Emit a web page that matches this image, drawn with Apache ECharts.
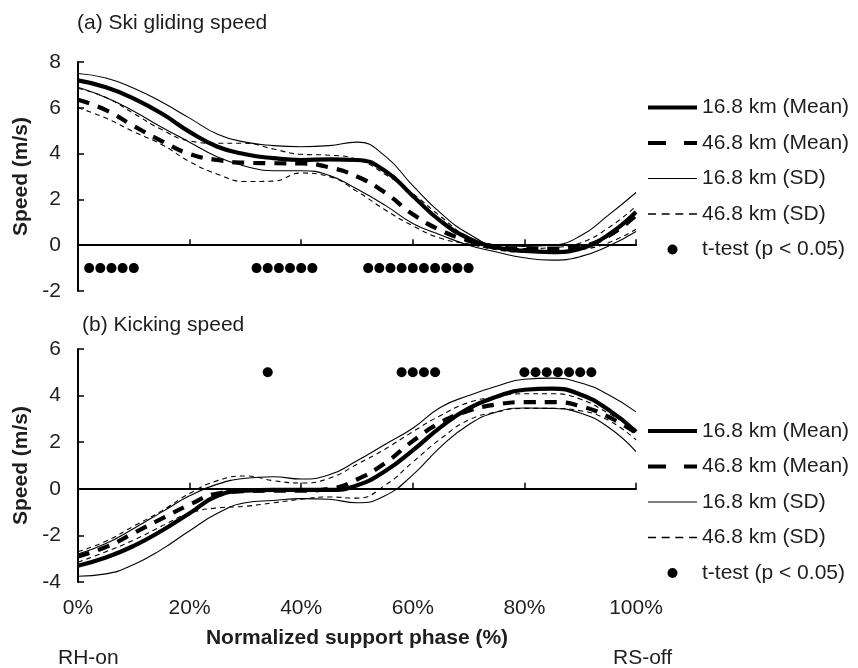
<!DOCTYPE html>
<html>
<head>
<meta charset="utf-8">
<script src="https://cdn.jsdelivr.net/npm/echarts@6/dist/echarts.min.js"></script>
<style>
html,body{margin:0;padding:0;background:#fff;}
#chart{width:858px;height:668px;}
</style>
</head>
<body>
<div id="chart"></div>
<script>
// Normalized support phase (%)
var phase = [0,5,10,15,20,25,30,35,40,45,50,55,60,65,70,75,80,85,90,95,100];

// (a) Ski gliding speed (m/s)
var glideMean168 = [7.2,6.9,6.4,5.75,4.95,4.3,3.97,3.8,3.72,3.75,3.72,3.25,2.15,1.05,0.3,-0.1,-0.25,-0.3,-0.15,0.45,1.45];
var glideMean468 = [6.35,5.9,5.2,4.55,3.98,3.72,3.6,3.58,3.57,3.4,3.0,2.3,1.35,0.65,0.2,-0.1,-0.15,-0.15,-0.05,0.4,1.3];
var glideSD168Up = [7.5,7.3,6.85,6.25,5.55,4.85,4.5,4.35,4.3,4.35,4.5,3.9,2.6,1.4,0.5,0.0,-0.05,0.0,0.4,1.3,2.3];
var glideSD168Lo = [6.9,6.45,5.85,5.15,4.5,3.85,3.45,3.25,3.25,3.05,2.45,1.75,0.95,0.45,0.0,-0.3,-0.55,-0.65,-0.5,-0.05,0.6];
var glideSD468Up = [6.85,6.45,5.75,5.05,4.55,4.45,4.45,4.2,3.97,3.93,3.75,3.1,2.25,1.25,0.35,0.0,-0.15,-0.1,0.1,0.75,1.7];
var glideSD468Lo = [6.0,5.55,4.95,4.4,3.65,3.1,2.78,2.8,3.15,3.0,2.35,1.55,0.85,0.3,0.05,-0.2,-0.3,-0.3,-0.2,0.1,0.7];
var glideSigX = [2,4,6,8,10,32,34,36,38,40,42,52,54,56,58,60,62,64,66,68,70];
var glideSigLevel = -1;

// (b) Kicking speed (m/s)
var kickMean168 = [-3.3,-2.95,-2.45,-1.8,-1.05,-0.3,-0.08,-0.05,-0.05,-0.05,0.15,0.75,1.65,2.65,3.45,3.95,4.25,4.3,4.05,3.4,2.45];
var kickMean468 = [-2.9,-2.5,-1.9,-1.28,-0.68,-0.2,-0.1,-0.08,-0.08,0.0,0.4,1.1,2.05,2.85,3.35,3.62,3.72,3.72,3.55,3.1,2.4];
var kickSD168Up = [-2.8,-2.35,-1.7,-1.0,-0.3,0.2,0.45,0.52,0.42,0.6,1.2,1.9,2.6,3.5,4.0,4.4,4.7,4.75,4.55,4.05,3.3];
var kickSD168Lo = [-3.75,-3.65,-3.25,-2.6,-1.8,-1.05,-0.6,-0.5,-0.42,-0.45,-0.6,-0.3,0.6,1.8,2.75,3.3,3.47,3.45,3.25,2.65,1.6];
var kickSD468Up = [-2.7,-2.25,-1.6,-0.95,-0.2,0.35,0.55,0.35,0.25,0.45,1.05,1.7,2.45,3.15,3.7,3.95,4.08,4.08,3.85,3.25,2.55];
var kickSD468Lo = [-3.15,-2.7,-2.2,-1.6,-1.05,-0.82,-0.75,-0.6,-0.45,-0.35,-0.4,0.15,1.15,2.15,2.95,3.3,3.45,3.45,3.35,2.95,2.1];
var kickSigX = [34,58,60,62,64,80,82,84,86,88,90,92];
var kickSigLevel = 5;

var names = ['16.8 km (Mean)','46.8 km (Mean)','16.8 km (SD)','46.8 km (SD)','t-test (p < 0.05)'];
var xTicks = [0,20,40,60,80,100];

function pairs(ys){ return phase.map(function(x,i){return [x, ys[i]];}); }
function sig(xs, level){ return xs.map(function(x){return [x, level];}); }

var FONT = 'Liberation Sans, Arial, sans-serif';
var TXT = '#1e1e1e';

var styles = {
  mean168: {color:'#000', width:4.2, type:'solid'},
  mean468: {color:'#000', width:4.2, type:[12,9]},
  sd168: {color:'#000', width:1.1, type:'solid'},
  sd468: {color:'#000', width:1.1, type:[5,4]}
};

// legend sample shapes (icon paths)
var legendIcons = [
  'path://M0,0H49V4.2H0Z',
  'path://M0,0H18V4.2H0Z M36,0H49V4.2H36Z',
  'path://M0,0H49V1.2H0Z',
  'path://M0,0H7V1.2H0Z M12,0H19V1.2H12Z M24,0H31V1.2H24Z M36,0H43V1.2H36Z',
  'circle'
];

function lineSeries(name, ys, style, gi, z){
  return {
    name: name, type:'line', xAxisIndex: gi === 0 ? 0 : 1, yAxisIndex: gi,
    data: pairs(ys), smooth: 0.5, symbol:'none', showSymbol:false,
    lineStyle: {color: style.color, width: style.width, type: style.type},
    itemStyle: {color:'#000'}, z: z, silent:true
  };
}

var series = [];
[0,1].forEach(function(gi){
  var d = gi === 0
    ? [glideMean168, glideMean468, glideSD168Up, glideSD168Lo, glideSD468Up, glideSD468Lo]
    : [kickMean168, kickMean468, kickSD168Up, kickSD168Lo, kickSD468Up, kickSD468Lo];
  series.push(lineSeries(names[2], d[2], styles.sd168, gi, 2));
  series.push(lineSeries(names[2], d[3], styles.sd168, gi, 2));
  series.push(lineSeries(names[3], d[4], styles.sd468, gi, 2));
  series.push(lineSeries(names[3], d[5], styles.sd468, gi, 2));
  series.push(lineSeries(names[0], d[0], styles.mean168, gi, 3));
  series.push(lineSeries(names[1], d[1], styles.mean468, gi, 3));
  series.push({
    name: names[4], type:'scatter', xAxisIndex: gi === 0 ? 0 : 1, yAxisIndex: gi,
    data: gi === 0 ? sig(glideSigX, glideSigLevel) : sig(kickSigX, kickSigLevel),
    symbol:'circle', symbolSize: 10, itemStyle:{color:'#000', opacity:1}, z:4, silent:true
  });
});

function zeroXAxis(gi){
  return {
    gridIndex: gi, type:'value', min:0, max:100, interval:20, position:'bottom',
    axisLine:{show:true, onZero:true, lineStyle:{color:'#000', width:2}},
    axisTick:{show:true, inside:true, length:6, lineStyle:{color:'#000', width:1.5}},
    axisLabel:{show:false}, splitLine:{show:false}
  };
}
function yAx(gi, mn, mx){
  return {
    gridIndex: gi, type:'value', min:mn, max:mx, interval:2,
    axisLine:{show:true, onZero:false, lineStyle:{color:'#000', width:2}},
    axisTick:{show:true, inside:true, length:6, lineStyle:{color:'#000', width:1.5}},
    axisLabel:{show:true, margin:17, fontSize:21, fontFamily:FONT, color:TXT},
    splitLine:{show:false},
    name:'Speed (m/s)', nameLocation:'middle', nameGap:45,
    nameTextStyle:{fontSize:21, fontWeight:'bold', fontFamily:FONT, color:TXT}
  };
}

function legendAt(top){
  return {
    orient:'vertical', left:648, top:top, padding:0,
    data: names.map(function(n,i){ return {name:n, icon:legendIcons[i]}; }),
    itemWidth:49, itemHeight:10, itemGap:14.5, selectedMode:false, symbolKeepAspect:true,
    itemStyle:{color:'#000', borderWidth:0, borderColor:'#000', opacity:1},
    lineStyle:{width:0},
    textStyle:{fontSize:21, fontFamily:FONT, color:TXT, lineHeight:21}
  };
}

var option = {
  animation:false,
  backgroundColor:'#fff',
  grid:[
    {left:78, width:558, top:62, height:229},
    {left:78, width:558, top:349, height:233}
  ],
  xAxis:[
    zeroXAxis(0),
    zeroXAxis(1),
    {
      gridIndex:1, type:'value', min:0, max:100, interval:20, position:'bottom',
      axisLine:{show:false, onZero:false}, axisTick:{show:false},
      axisLabel:{show:true, margin:16, fontSize:21, fontFamily:FONT, color:TXT,
        formatter:function(v){ return xTicks.indexOf(v) >= 0 ? v + '%' : ''; }},
      splitLine:{show:false},
      name:'Normalized support phase (%)', nameLocation:'middle', nameGap:46,
      nameTextStyle:{fontSize:21, fontWeight:'bold', fontFamily:FONT, color:TXT}
    }
  ],
  yAxis:[ yAx(0,-2,8), yAx(1,-4,6) ],
  legend:[ legendAt(97), legendAt(420.5) ],
  graphic:[
    {type:'text', left:77, top:13, style:{text:'(a) Ski gliding speed', fontSize:21, fontFamily:FONT, fill:TXT}},
    {type:'text', left:82, top:315, style:{text:'(b) Kicking speed', fontSize:21, fontFamily:FONT, fill:TXT}},
    {type:'text', left:58, top:648, style:{text:'RH-on', fontSize:21, fontFamily:FONT, fill:TXT}},
    {type:'text', left:613, top:648, style:{text:'RS-off', fontSize:21, fontFamily:FONT, fill:TXT}}
  ],
  series: series
};

var chart = echarts.init(document.getElementById('chart'), null, {renderer:'canvas'});
chart.setOption(option);
</script>
</body>
</html>
